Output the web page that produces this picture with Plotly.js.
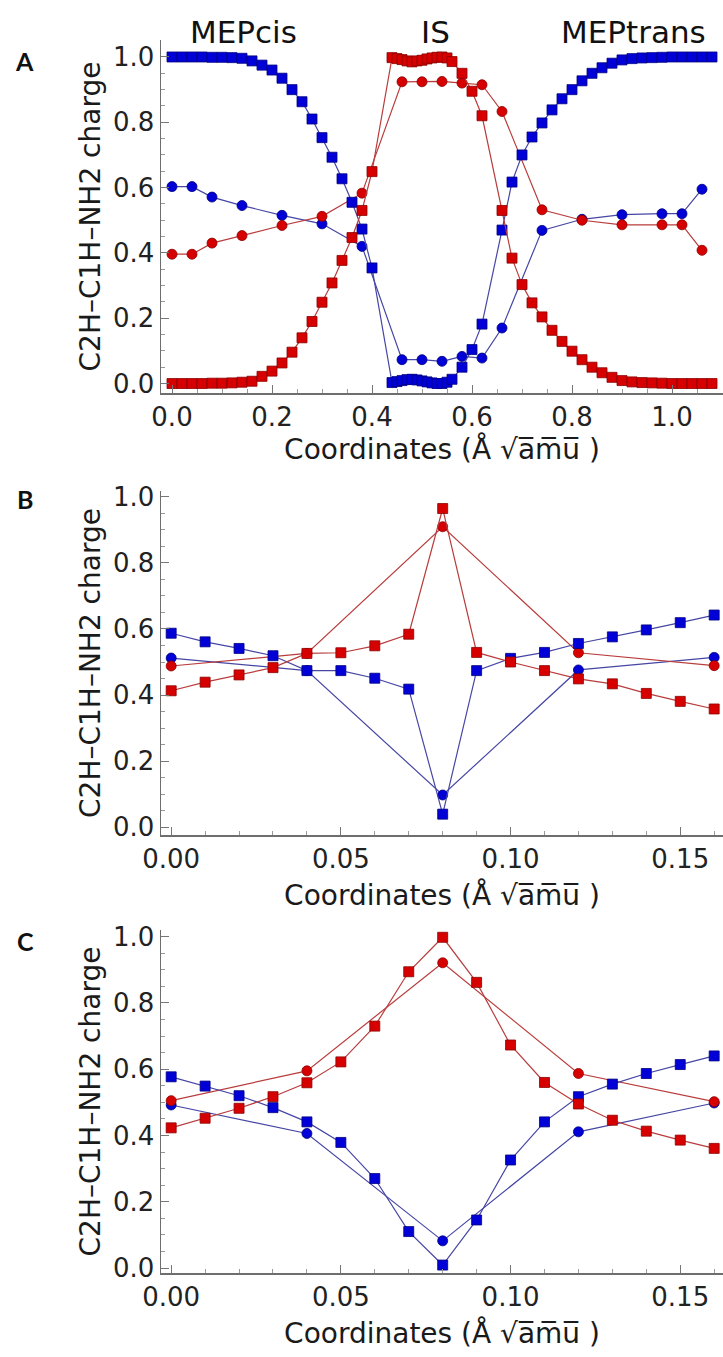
<!DOCTYPE html>
<html>
<head>
<meta charset="utf-8">
<script src="https://cdn.plot.ly/plotly-3.0.1.min.js"></script>
<style>html,body{margin:0;padding:0;background:#fff}#chart{width:723px;height:1357px}</style>
</head>
<body>
<div id="chart"></div>
<script>
// ---------- Panel A ----------
const A_sq_x = [0,0.02,0.04,0.06,0.08,0.10,0.12,0.14,0.16,0.18,0.20,0.22,0.24,0.26,0.28,0.30,0.32,0.34,0.36,0.38,0.40,
  0.44,0.45,0.46,0.47,0.48,0.49,0.50,0.51,0.52,0.53,0.54,0.55,0.56,0.58,0.60,0.62,
  0.66,0.68,0.70,0.72,0.74,0.76,0.78,0.80,0.82,0.84,0.86,0.88,0.90,0.92,0.94,0.96,0.98,1.00,1.02,1.04,1.06,1.08];
const A_blue_sq = [1.0,1.0,1.0,1.0,0.999,0.999,0.998,0.996,0.988,0.975,0.96,0.935,0.90,0.863,0.81,0.753,0.693,0.627,0.555,0.473,0.354,
  0.003,0.006,0.009,0.012,0.013,0.011,0.008,0.005,0.002,0.0,0.0,0.004,0.013,0.05,0.104,0.182,
  0.47,0.617,0.70,0.755,0.798,0.838,0.872,0.90,0.927,0.95,0.967,0.981,0.991,0.995,0.997,0.998,0.999,1.0,1.0,1.0,1.0,1.0];
const A_red_sq = [0.0,0.0,0.0,0.0,0.001,0.001,0.002,0.004,0.007,0.022,0.038,0.063,0.096,0.14,0.19,0.249,0.308,0.377,0.447,0.53,0.649,
  0.998,0.995,0.992,0.988,0.985,0.988,0.99,0.994,0.997,0.999,1.0,0.997,0.986,0.95,0.895,0.82,
  0.53,0.384,0.303,0.247,0.204,0.163,0.129,0.099,0.073,0.05,0.033,0.019,0.009,0.005,0.003,0.002,0.001,0.0,0.0,0.0,0.0,0.0];
const A_ci_x = [0,0.04,0.08,0.14,0.22,0.30,0.38,0.46,0.50,0.54,0.58,0.62,0.66,0.74,0.82,0.90,0.98,1.02,1.06];
const A_blue_ci = [0.603,0.603,0.571,0.545,0.515,0.489,0.42,0.073,0.073,0.068,0.083,0.078,0.17,0.469,0.503,0.517,0.52,0.52,0.595];
const A_red_ci = [0.396,0.396,0.43,0.453,0.484,0.512,0.583,0.924,0.924,0.925,0.92,0.915,0.833,0.532,0.50,0.486,0.486,0.486,0.408];

// ---------- Panel B ----------
const B_sq_x = [0,0.01,0.02,0.03,0.04,0.05,0.06,0.07,0.08,0.09,0.10,0.11,0.12,0.13,0.14,0.15,0.16];
const B_blue_sq = [0.587,0.561,0.541,0.519,0.474,0.474,0.451,0.418,0.04,0.474,0.511,0.529,0.556,0.576,0.597,0.619,0.642];
const B_red_sq = [0.413,0.439,0.461,0.483,0.526,0.528,0.549,0.584,0.964,0.529,0.50,0.474,0.449,0.434,0.405,0.381,0.358];
const B_ci_x = [0,0.04,0.08,0.12,0.16];
const B_blue_ci = [0.512,0.474,0.098,0.476,0.514];
const B_red_ci = [0.488,0.526,0.909,0.528,0.489];

// ---------- Panel C ----------
const C_sq_x = [0,0.01,0.02,0.03,0.04,0.05,0.06,0.07,0.08,0.09,0.10,0.11,0.12,0.13,0.14,0.15,0.16];
const C_blue_sq = [0.577,0.549,0.52,0.484,0.441,0.379,0.27,0.11,0.009,0.145,0.326,0.441,0.517,0.555,0.587,0.614,0.64];
const C_red_sq = [0.423,0.452,0.482,0.517,0.559,0.622,0.73,0.894,0.998,0.862,0.673,0.56,0.495,0.446,0.413,0.386,0.361];
const C_ci_x = [0,0.04,0.08,0.12,0.16];
const C_blue_ci = [0.492,0.406,0.082,0.411,0.498];
const C_red_ci = [0.505,0.595,0.921,0.587,0.502];

// tick labels
const A_xticks = [0,0.2,0.4,0.6,0.8,1.0];
const BC_xticks = [0,0.05,0.10,0.15];
const yticks = [0,0.2,0.4,0.6,0.8,1.0];
const phaseLabels = ["MEPcis","IS","MEPtrans"];
const panelLetters = ["A","B","C"];

const FONT = "DejaVu Sans, Arial, sans-serif";
const BLUE = "rgb(0,0,215)", BLUE_EDGE = "rgb(0,0,130)", BLUE_LINE = "rgb(70,70,165)";
const RED = "rgb(215,0,0)", RED_EDGE = "rgb(140,0,0)", RED_LINE = "rgb(185,60,60)";

function tr(x, y, color, edge, line, symbol, xa, ya) {
  return {x: x, y: y, type: "scatter", mode: "lines+markers", xaxis: xa, yaxis: ya,
    line: {color: line, width: 1.2},
    marker: {symbol: symbol, size: 10, color: color, line: {color: edge, width: 0.8}},
    showlegend: false, cliponaxis: false, hoverinfo: "x+y"};
}
const data = [];
function panel(sx, bs, rs, cx, bc, rc, xa, ya) {
  data.push(tr(cx, bc, BLUE, BLUE_EDGE, BLUE_LINE, "circle", xa, ya));
  data.push(tr(cx, rc, RED, RED_EDGE, RED_LINE, "circle", xa, ya));
  data.push(tr(sx, bs, BLUE, BLUE_EDGE, BLUE_LINE, "square", xa, ya));
  data.push(tr(sx, rs, RED, RED_EDGE, RED_LINE, "square", xa, ya));
}
panel(A_sq_x, A_blue_sq, A_red_sq, A_ci_x, A_blue_ci, A_red_ci, "x", "y");
panel(B_sq_x, B_blue_sq, B_red_sq, B_ci_x, B_blue_ci, B_red_ci, "x2", "y2");
panel(C_sq_x, C_blue_sq, C_red_sq, C_ci_x, C_blue_ci, C_red_ci, "x3", "y3");

const xTitle = "Coordinates (Å √a\u0305m\u0305u\u0305 )";
const yTitle = "C2H–C1H–NH2 charge";

function xax(range, ticks, fmt, minor, anchor, standoff) {
  return {domain: [161/723, 1], range: range, anchor: anchor, tickvals: ticks, tickformat: fmt,
    showline: true, linecolor: "#6e6e6e", linewidth: 1.5, ticks: "inside", ticklen: 8, tickcolor: "#777", tickwidth: 1,
    minor: {dtick: minor, ticks: "inside", ticklen: 4, tickcolor: "#999", tickwidth: 1, showgrid: false},
    showgrid: false, zeroline: false, tickfont: {family: FONT, size: 26, color: "#222"},
    title: {text: xTitle, font: {family: FONT, size: 28, color: "#1a1a1a"}, standoff: standoff}};
}
function yax(domain, range, anchor) {
  return {domain: domain, range: range, anchor: anchor, tickvals: yticks, tickformat: ".1f",
    showline: true, linecolor: "#6e6e6e", linewidth: 1.5, ticks: "inside", ticklen: 8, tickcolor: "#777", tickwidth: 1,
    minor: {dtick: 0.05, ticks: "inside", ticklen: 4, tickcolor: "#999", tickwidth: 1, showgrid: false},
    showgrid: false, zeroline: false, tickfont: {family: FONT, size: 26, color: "#222"},
    title: {text: yTitle, font: {family: FONT, size: 28, color: "#1a1a1a"}, standoff: 4}};
}
const H = 1357;
const letterFont = {family: "Lato, Open Sans, sans-serif", size: 25, color: "#111"};
const layout = {
  width: 723, height: 1357, margin: {l: 0, r: 0, t: 0, b: 0},
  paper_bgcolor: "#fff", plot_bgcolor: "#fff", showlegend: false,
  xaxis: xax([-0.022, 1.102], A_xticks, ".1f", 0.05, "y", 2),
  yaxis: yax([1 - 393/H, 1 - 40/H], [-0.029, 1.052], "x"),
  xaxis2: xax([-0.003, 0.1626], BC_xticks, ".2f", 0.01, "y2", 12),
  yaxis2: yax([1 - 835/H, 1 - 491/H], [-0.023, 1.017], "x2"),
  xaxis3: xax([-0.003, 0.1626], BC_xticks, ".2f", 0.01, "y3", 12),
  yaxis3: yax([1 - 1273/H, 1 - 930/H], [-0.015, 1.02], "x3"),
  annotations: [
    {text: phaseLabels[0], x: 243/723, y: 1 - 32/H, xref: "paper", yref: "paper", showarrow: false, xanchor: "center", yanchor: "middle", font: {family: FONT, size: 31, color: "#111"}},
    {text: phaseLabels[1], x: 435/723, y: 1 - 32/H, xref: "paper", yref: "paper", showarrow: false, xanchor: "center", yanchor: "middle", font: {family: FONT, size: 31, color: "#111"}},
    {text: phaseLabels[2], x: 633/723, y: 1 - 32/H, xref: "paper", yref: "paper", showarrow: false, xanchor: "center", yanchor: "middle", font: {family: FONT, size: 31, color: "#111"}},
    {text: "<b>" + panelLetters[0] + "</b>", x: 24/723, y: 1 - 61/H, xref: "paper", yref: "paper", showarrow: false, xanchor: "center", yanchor: "middle", font: letterFont},
    {text: "<b>" + panelLetters[1] + "</b>", x: 25/723, y: 1 - 499/H, xref: "paper", yref: "paper", showarrow: false, xanchor: "center", yanchor: "middle", font: letterFont},
    {text: "<b>" + panelLetters[2] + "</b>", x: 25/723, y: 1 - 941/H, xref: "paper", yref: "paper", showarrow: false, xanchor: "center", yanchor: "middle", font: letterFont}
  ]
};
Plotly.newPlot("chart", data, layout, {staticPlot: true, displayModeBar: false});
</script>
</body>
</html>
